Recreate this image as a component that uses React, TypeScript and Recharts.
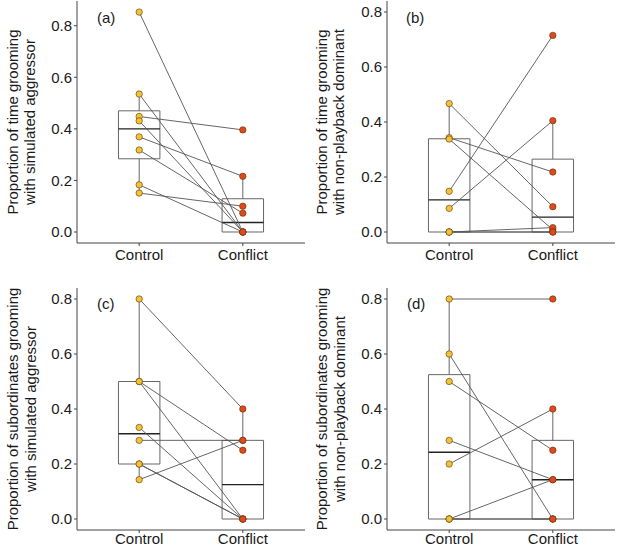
import {
	ComposedChart,
	ReferenceArea,
	ReferenceLine,
	Scatter,
	XAxis,
	YAxis,
} from "recharts";

const groups = ["Control", "Conflict"];
const yTicks = [0, 0.2, 0.4, 0.6, 0.8];

// paired values: control[i] is linked to conflict[i]
const aControl = [0.853, 0.535, 0.448, 0.431, 0.369, 0.318, 0.183, 0.151];
const aConflict = [0, 0, 0.396, 0, 0.216, 0.073, 0, 0.1];
// box stats: lower whisker, q1, median, q3, upper whisker
const aControlBox = [0.151, 0.284, 0.4, 0.47, 0.535];
const aConflictBox = [0, 0, 0.037, 0.129, 0.216];

const bControl = [0.467, 0.343, 0.338, 0.148, 0.086, 0, 0, 0];
const bConflict = [0.092, 0.218, 0.008, 0.715, 0.405, 0.016, 0, 0];
const bControlBox = [0, 0, 0.117, 0.339, 0.467];
const bConflictBox = [0, 0, 0.054, 0.265, 0.405];

const cControl = [0.8, 0.5, 0.5, 0.333, 0.286, 0.2, 0.2, 0.143];
const cConflict = [0.4, 0.25, 0, 0, 0.286, 0, 0, 0.286];
const cControlBox = [0.143, 0.2, 0.31, 0.5, 0.8];
const cConflictBox = [0, 0, 0.125, 0.286, 0.4];

const dControl = [0.8, 0.6, 0.5, 0.286, 0.2, 0, 0, 0];
const dConflict = [0.8, 0, 0.25, 0.143, 0.4, 0.143, 0, 0];
const dControlBox = [0, 0, 0.243, 0.525, 0.8];
const dConflictBox = [0, 0, 0.143, 0.286, 0.4];

const titleTimeAggr = ["Proportion of time grooming", "with simulated aggressor"];
const titleTimeDom = ["Proportion of time grooming", "with non-playback dominant"];
const titleSubAggr = ["Proportion of subordinates grooming", "with simulated aggressor"];
const titleSubDom = ["Proportion of subordinates grooming", "with non-playback dominant"];

const FONT = "'Liberation Sans', Arial, sans-serif";
const AXIS = "#444";
const BOX = "#666";
const LINK = "#555";
const GOLD = "#f3c23a";
const RED = "#e2481f";
const HALF = 0.2;

const makeDot = (fill: string) => (props: any) => (
	<circle cx={props.cx} cy={props.cy} r={3.2} fill={fill} stroke="#5a3500" strokeWidth={0.6} />
);

function boxParts(pos: number, stats: number[], key: string) {
	const [lo, q1, med, q3, hi] = stats;
	const parts = [
		<ReferenceArea
			key={`${key}-box`}
			x1={pos - HALF}
			x2={pos + HALF}
			y1={q1}
			y2={q3}
			fill="#fff"
			fillOpacity={0}
			stroke={BOX}
			strokeWidth={1}
			ifOverflow="visible"
		/>,
		<ReferenceLine
			key={`${key}-med`}
			segment={[
				{ x: pos - HALF, y: med },
				{ x: pos + HALF, y: med },
			]}
			stroke="#222"
			strokeWidth={1.4}
			ifOverflow="visible"
		/>,
	];
	if (hi > q3) {
		parts.push(
			<ReferenceLine
				key={`${key}-hi`}
				segment={[
					{ x: pos, y: q3 },
					{ x: pos, y: hi },
				]}
				stroke={BOX}
				strokeWidth={1}
				ifOverflow="visible"
			/>,
		);
	}
	if (q1 > lo) {
		parts.push(
			<ReferenceLine
				key={`${key}-lo`}
				segment={[
					{ x: pos, y: lo },
					{ x: pos, y: q1 },
				]}
				stroke={BOX}
				strokeWidth={1}
				ifOverflow="visible"
			/>,
		);
	}
	return parts;
}

type PanelProps = {
	left: number;
	top: number;
	width: number;
	height: number;
	axisWidth: number;
	marginTop: number;
	marginRight: number;
	xAxisHeight: number;
	xTickMargin: number;
	domain: [number, number];
	control: number[];
	conflict: number[];
	controlBox: number[];
	conflictBox: number[];
};

function Panel(p: PanelProps) {
	const controlPts = p.control.map((y) => ({ x: 1, y }));
	const conflictPts = p.conflict.map((y) => ({ x: 2, y }));
	return (
		<div style={{ position: "absolute", left: p.left, top: p.top, width: p.width, height: p.height }}>
			<ComposedChart
				width={p.width}
				height={p.height}
				margin={{ top: p.marginTop, right: p.marginRight, bottom: 0, left: 0 }}
			>
				<XAxis
					type="number"
					dataKey="x"
					domain={[0.4, 2.6]}
					ticks={[1, 2]}
					interval={0}
					allowDataOverflow
					height={p.xAxisHeight}
					tickFormatter={(v) => groups[Number(v) - 1] ?? ""}
					axisLine={{ stroke: AXIS }}
					tickLine={{ stroke: AXIS }}
					tickSize={3}
					tickMargin={p.xTickMargin}
					tick={{ fill: "#1a1a1a", fontSize: 15 }}
				/>
				<YAxis
					type="number"
					dataKey="y"
					domain={p.domain}
					ticks={yTicks}
					allowDataOverflow
					width={p.axisWidth}
					tickFormatter={(v) => Number(v).toFixed(1)}
					axisLine={{ stroke: AXIS }}
					tickLine={{ stroke: AXIS }}
					tickSize={3}
					tickMargin={2}
					tick={{ fill: "#1a1a1a", fontSize: 15 }}
				/>
				{boxParts(1, p.controlBox, "ctl")}
				{boxParts(2, p.conflictBox, "cfl")}
				{p.control.map((v, i) => (
					<ReferenceLine
						key={`pair-${i}`}
						segment={[
							{ x: 1, y: v },
							{ x: 2, y: p.conflict[i] },
						]}
						stroke={LINK}
						strokeWidth={0.9}
						ifOverflow="visible"
					/>
				))}
				<Scatter data={controlPts} shape={makeDot(GOLD)} isAnimationActive={false} />
				<Scatter data={conflictPts} shape={makeDot(RED)} isAnimationActive={false} />
			</ComposedChart>
		</div>
	);
}

function Title({ x, y, lines }: { x: number[]; y: number; lines: string[] }) {
	return (
		<>
			{lines.map((line, i) => (
				<text
					key={line}
					transform={`translate(${x[i]},${y}) rotate(-90)`}
					textAnchor="middle"
					dominantBaseline="central"
					fontSize={15}
					fill="#1a1a1a"
				>
					{line}
				</text>
			))}
		</>
	);
}

export default function App() {
	return (
		<div
			style={{
				position: "absolute",
				left: 0,
				top: 0,
				width: 617,
				height: 548,
				background: "#fff",
				fontFamily: FONT,
			}}
		>
			<Panel
				left={0}
				top={0}
				width={308}
				height={274}
				axisWidth={77}
				marginTop={1}
				marginRight={3}
				xAxisHeight={31}
				xTickMargin={3}
				domain={[-0.0427, 0.896]}
				control={aControl}
				conflict={aConflict}
				controlBox={aControlBox}
				conflictBox={aConflictBox}
			/>
			<Panel
				left={308}
				top={0}
				width={309}
				height={274}
				axisWidth={79}
				marginTop={1}
				marginRight={2}
				xAxisHeight={31}
				xTickMargin={3}
				domain={[-0.04, 0.84]}
				control={bControl}
				conflict={bConflict}
				controlBox={bControlBox}
				conflictBox={bConflictBox}
			/>
			<Panel
				left={0}
				top={274}
				width={308}
				height={274}
				axisWidth={77}
				marginTop={14}
				marginRight={3}
				xAxisHeight={18}
				xTickMargin={0}
				domain={[-0.04, 0.84]}
				control={cControl}
				conflict={cConflict}
				controlBox={cControlBox}
				conflictBox={cConflictBox}
			/>
			<Panel
				left={308}
				top={274}
				width={309}
				height={274}
				axisWidth={79}
				marginTop={14}
				marginRight={2}
				xAxisHeight={18}
				xTickMargin={0}
				domain={[-0.04, 0.84]}
				control={dControl}
				conflict={dConflict}
				controlBox={dControlBox}
				conflictBox={dConflictBox}
			/>
			<svg
				width={617}
				height={548}
				style={{ position: "absolute", left: 0, top: 0, pointerEvents: "none", fontFamily: FONT }}
			>
				<Title x={[12, 29]} y={122} lines={titleTimeAggr} />
				<Title x={[321, 338]} y={122} lines={titleTimeDom} />
				<Title x={[12, 30]} y={409} lines={titleSubAggr} />
				<Title x={[321, 339]} y={409} lines={titleSubDom} />
				<text x={97} y={23} fontSize={15} fill="#1a1a1a">(a)</text>
				<text x={406} y={23} fontSize={15} fill="#1a1a1a">(b)</text>
				<text x={97} y={309} fontSize={15} fill="#1a1a1a">(c)</text>
				<text x={407} y={309} fontSize={15} fill="#1a1a1a">(d)</text>
			</svg>
		</div>
	);
}
